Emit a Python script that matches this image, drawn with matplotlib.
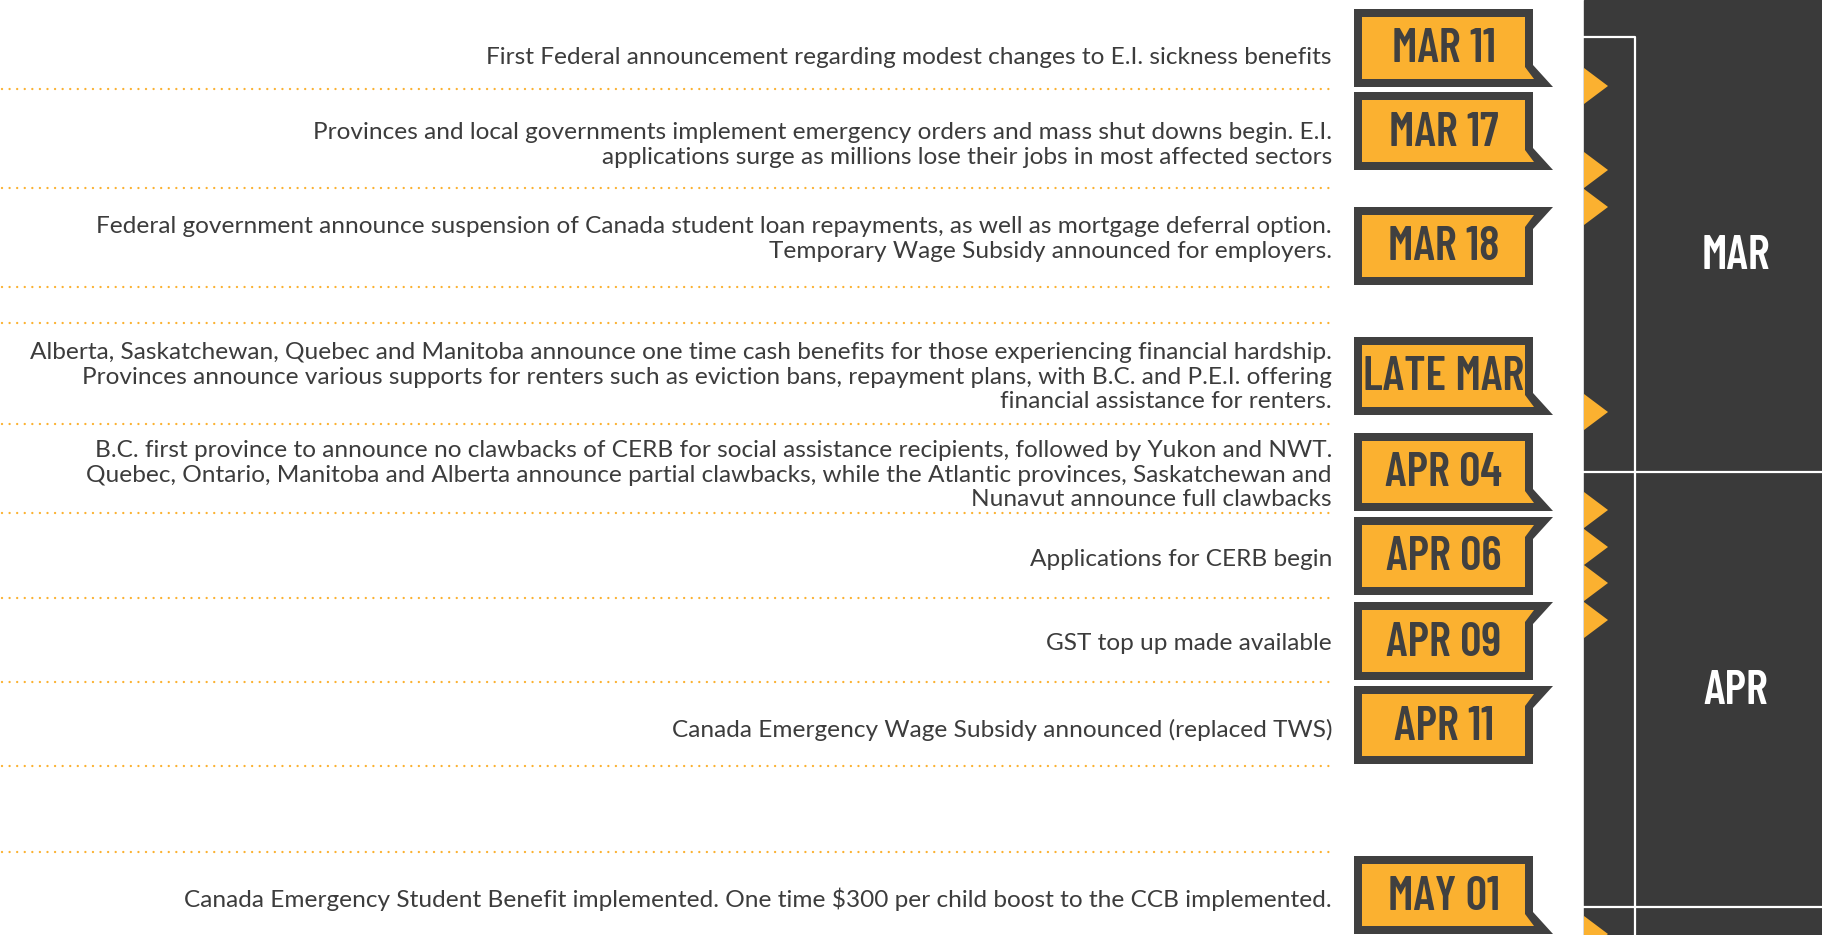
import matplotlib.pyplot as plt
from matplotlib.patches import Polygon, Rectangle

# timeline content
dates = ["MAR 11", "MAR 17", "MAR 18", "LATE MAR", "APR 04", "APR 06", "APR 09", "APR 11", "MAY 01"]
events = [
    "First Federal announcement regarding modest changes to E.I. sickness benefits",
    "Provinces and local governments implement emergency orders and mass shut downs begin. E.I.\n"
    "applications surge as millions lose their jobs in most affected sectors",
    "Federal government announce suspension of Canada student loan repayments, as well as mortgage deferral option.\n"
    "Temporary Wage Subsidy announced for employers.",
    "Alberta, Saskatchewan, Quebec and Manitoba announce one time cash benefits for those experiencing financial hardship.\n"
    "Provinces announce various supports for renters such as eviction bans, repayment plans, with B.C. and P.E.I. offering\n"
    "financial assistance for renters.",
    "B.C. first province to announce no clawbacks of CERB for social assistance recipients, followed by Yukon and NWT.\n"
    "Quebec, Ontario, Manitoba and Alberta announce partial clawbacks, while the Atlantic provinces, Saskatchewan and\n"
    "Nunavut announce full clawbacks",
    "Applications for CERB begin",
    "GST top up made available",
    "Canada Emergency Wage Subsidy announced (replaced TWS)",
    "Canada Emergency Student Benefit implemented. One time $300 per child boost to the CCB implemented.",
]
tails = ["down", "down", "up", "down", "down", "up", "up", "up", "down"]
months = ["MAR", "APR"]

# layout (pixel rows of the 1822x935 canvas)
W, H = 1822, 935
badge_top = [9, 92, 207, 337, 433, 517, 602, 686, 856]
text_y = [58, 145, 239, 377, 475, 560, 644, 730, 899]
divider_y = [89, 188, 287, 323, 424, 513, 598, 682, 766, 852]
marker_y = [86, 170, 207, 412, 510, 547, 583, 620, 934]
month_span = [(37, 472), (472, 907)]

YELLOW = "#FBB130"
DARK = "#404040"
TEXT = "#3c3c3c"
COL_BG = "#3a3a3a"
BADGE_FONT = ["Barlow Condensed", "DejaVu Sans"]
BODY_FONT = ["Lato", "DejaVu Sans"]

fig = plt.figure(figsize=(W / 100, H / 100), dpi=100)
ax = fig.add_axes([0, 0, 1, 1])
ax.set_xlim(0, W)
ax.set_ylim(H, 0)
ax.axis("off")

# dark column on the right
col_x = 1584
line_x = 1635
ax.add_patch(Rectangle((col_x, 0), W - col_x, H, color=COL_BG, zorder=0))
ax.plot([col_x, line_x, line_x], [month_span[0][0], month_span[0][0], H], color="white", lw=1.6, zorder=2)
for top, bottom in month_span:
    ax.plot([col_x, W], [bottom, bottom], color="white", lw=1.6, zorder=2)
for m, (top, bottom) in zip(months, month_span):
    ax.text((line_x + W) / 2 + 7, (top + bottom) / 2 + 2, m, color="white", fontsize=34,
            fontweight="semibold", family=BADGE_FONT, ha="center", va="center", zorder=3)

# yellow markers on the column edge
for my in marker_y:
    ax.add_patch(Polygon([(col_x, my - 18), (col_x + 24, my), (col_x, my + 18)],
                         closed=True, color=YELLOW, lw=0, zorder=3))

# dotted dividers
for dy in divider_y:
    ax.plot([2, 1334], [dy, dy], color=YELLOW, lw=1.7, linestyle=(0, (0.01, 3.2)),
            dash_capstyle="round", zorder=1)

# event texts
for txt, ty in zip(events, text_y):
    ax.text(1332, ty, txt, ha="right", va="center", multialignment="right",
            fontsize=17.6, color=TEXT, family=BODY_FONT, linespacing=1.2)

# date badges
x0, x1 = 1354, 1533
bh = 78
bw = 8
for d, top, tail in zip(dates, badge_top, tails):
    y0, y1 = top, top + bh
    if tail == "down":
        outer = [(x0, y0), (x1, y0), (x1, y1 - 22), (x1 + 20, y1), (x0, y1)]
        inner = [(x0 + bw, y0 + bw), (x1 - bw, y0 + bw), (x1 - bw, y1 - bw - 12),
                 (x1 + 1, y1 - bw), (x0 + bw, y1 - bw)]
    else:
        outer = [(x0, y0), (x1 + 20, y0), (x1, y0 + 22), (x1, y1), (x0, y1)]
        inner = [(x0 + bw, y0 + bw), (x1 + 1, y0 + bw), (x1 - bw, y0 + bw + 12),
                 (x1 - bw, y1 - bw), (x0 + bw, y1 - bw)]
    ax.add_patch(Polygon(outer, closed=True, color=DARK, lw=0, zorder=3))
    ax.add_patch(Polygon(inner, closed=True, color=YELLOW, lw=0, zorder=4))
    ax.text((x0 + x1) / 2, (y0 + y1) / 2 + 2, d, ha="center", va="center", color=DARK,
            fontsize=34, fontweight="semibold", family=BADGE_FONT, zorder=5)

fig.savefig("out.png", dpi=100)
